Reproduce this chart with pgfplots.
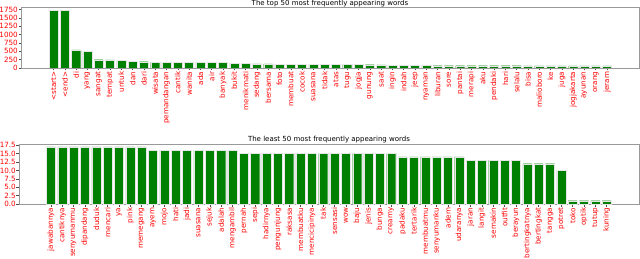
\documentclass[border=0pt]{standalone}
\usepackage{fontspec}
\setmainfont{DejaVu Sans}
\usepackage{pgfplots}
\pgfplotsset{compat=1.18}
\definecolor{mplgreen}{RGB}{0,128,0}
\begin{document}
\begin{tikzpicture}
\useasboundingbox (0pt,0pt) rectangle (640pt,-259pt);
\pgfplotsset{
  mystyle/.style={
    scale only axis,
    ybar, bar width=0.8,
    ymin=0,
    enlargelimits=false,
    axis line style={black!40},
    tick style={black!70, line width=0.5pt},
    major tick length=2.5pt,
    tick align=outside,
    xtick pos=lower, ytick pos=left,
    xtick=data,
    ticklabel style={font=\fontsize{7.2}{8}\selectfont, text=red},
    xticklabel style={rotate=90, anchor=east, inner sep=1pt},
    yticklabel style={inner sep=0.5pt},
    /pgf/number format/assume math mode=true,
    title style={font=\fontsize{7}{8}\selectfont, at={(0.5,1)}, anchor=south, inner sep=0pt},
  },
  barstyle/.style={fill=mplgreen, draw=black!10, line width=0.25pt},
}
\begin{axis}[mystyle,
  at={(21pt,-7.3pt)}, anchor=north west,
  width=618pt, height=60.7pt,
  xmin=-2.88, xmax=51.83, ymax=1816,
  ytick={0,250,...,1750},
  yticklabel style={/pgf/number format/1000 sep={}},
  title style={yshift=-6pt},
  title={The top 50 most frequently appearing words},
  xticklabels={<start>,<end>,di,yang,sangat,tempat,untuk,dan,dari,wisata,pemandangan,cantik,wanita,ada,air,banyak,bukit,menikmati,sedang,bersama,foto,membuat,cocok,suasana,tidak,atas,tugu,jogja,gunung,saat,ingin,indah,jeep,nyaman,liburan,sore,pantai,merapi,aku,pendaki,hari,selalu,bisa,malioboro,ke,juga,jogjakarta,ayunan,orang,jeram},
]
\addplot[barstyle] coordinates {
(0,1730) (1,1730) (2,540) (3,490) (4,250) (5,245) (6,230) (7,205) (8,190) (9,170)
(10,170) (11,168) (12,168) (13,172) (14,172) (15,172) (16,145) (17,145) (18,125) (19,125)
(20,110) (21,108) (22,106) (23,105) (24,105) (25,105) (26,104) (27,104) (28,100) (29,92)
(30,82) (31,80) (32,80) (33,80) (34,70) (35,70) (36,70) (37,68) (38,68) (39,68)
(40,68) (41,68) (42,67) (43,67) (44,67) (45,66) (46,66) (47,66) (48,65) (49,65)
};
\end{axis}
\begin{axis}[mystyle,
  at={(19pt,-144pt)}, anchor=north west,
  width=620pt, height=60pt,
  xmin=-2.82, xmax=51.85, ymax=17.85,
  ytick={0,2.5,...,17.5},
  yticklabel style={/pgf/number format/.cd, fixed, fixed zerofill, precision=1},
  title style={yshift=-5pt},
  title={The least 50 most frequently appearing words},
  xticklabels={jawabannya,cantiknya,senyumanmu,dipandang,duduk,mencari,ya,pink,memegang,ayem,mojo,hati,jadi,suasana,sejuk,adalah,mengambil,pernah,sepi,hadirnya,pengunjung,raksasa,membuatku,mencicipinya,tak,sensasi,wow,baju,jenis,bunga,creamy,padaku,tertarik,membuatmu,senyumanku,adem,udaranya,jaran,langit,semakin,outfit,berayun,bertingkatnya,bertingkat,tangga,potret,toko,optik,tutup,kuning},
]
\addplot[barstyle] coordinates {
(0,17) (1,17) (2,17) (3,17) (4,17) (5,17) (6,17) (7,17) (8,17) (9,16)
(10,16) (11,16) (12,16) (13,16) (14,16) (15,16) (16,16) (17,15) (18,15) (19,15)
(20,15) (21,15) (22,15) (23,15) (24,15) (25,15) (26,15) (27,15) (28,15) (29,15)
(30,15) (31,14) (32,14) (33,14) (34,14) (35,14) (36,14) (37,13) (38,13) (39,13)
(40,13) (41,13) (42,12) (43,12) (44,12) (45,10) (46,1) (47,1) (48,1) (49,1)
};
\end{axis}
\end{tikzpicture}
\end{document}
